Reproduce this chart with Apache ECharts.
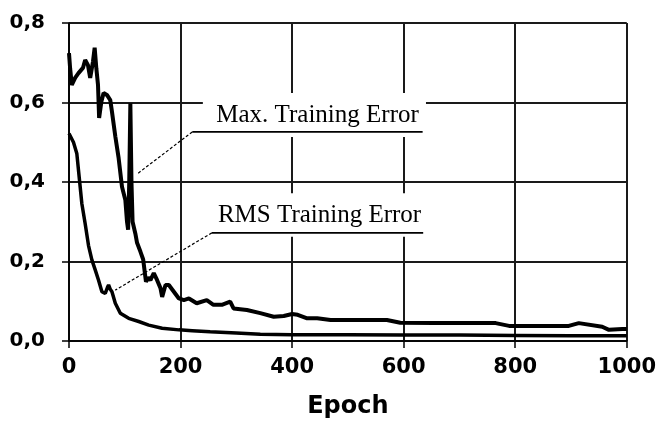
<!DOCTYPE html>
<html>
<head>
<meta charset="utf-8">
<script src="https://cdn.jsdelivr.net/npm/echarts@6/dist/echarts.min.js"></script>
<style>
html,body{margin:0;padding:0;background:#fff;}
#chart{width:659px;height:428px;}
</style>
</head>
<body>
<div id="chart"></div>
<script>
// ---- data ----
const xTicks = [0, 200, 400, 600, 800, 1000];
const yTicks = [0.0, 0.2, 0.4, 0.6, 0.8];
const xName = 'Epoch';

const maxEpochs = [0, 2, 5, 11, 17, 25, 29, 34, 38, 43, 46, 49, 52, 54, 58, 62, 68, 74, 77, 83, 89, 95, 101, 104, 106, 108, 110, 112, 114, 119, 122, 128, 133, 136, 138, 142, 146, 152, 158, 164, 167, 173, 179, 188, 197, 206, 215, 229, 247, 259, 274, 289, 295, 319, 343, 367, 385, 400, 410, 427, 445, 469, 499, 570, 594, 654, 738, 765, 789, 896, 914, 956, 968, 992, 1000];
const maxValues = [0.724, 0.686, 0.644, 0.662, 0.674, 0.687, 0.707, 0.694, 0.662, 0.703, 0.738, 0.686, 0.644, 0.561, 0.602, 0.624, 0.619, 0.606, 0.577, 0.515, 0.46, 0.388, 0.355, 0.30, 0.28, 0.40, 0.598, 0.40, 0.30, 0.27, 0.247, 0.225, 0.205, 0.171, 0.149, 0.16, 0.153, 0.171, 0.153, 0.133, 0.111, 0.141, 0.141, 0.124, 0.107, 0.103, 0.107, 0.095, 0.103, 0.091, 0.091, 0.099, 0.082, 0.078, 0.070, 0.061, 0.063, 0.068, 0.066, 0.057, 0.057, 0.053, 0.053, 0.053, 0.046, 0.045, 0.045, 0.045, 0.038, 0.038, 0.045, 0.036, 0.028, 0.030, 0.030];

const rmsEpochs = [0, 8, 14, 17, 20, 23, 29, 35, 41, 47, 53, 59, 65, 69, 71, 74, 77, 83, 92, 107, 125, 143, 167, 197, 221, 253, 300, 343, 400, 500, 600, 700, 800, 900, 1000];
const rmsValues = [0.522, 0.50, 0.472, 0.43, 0.388, 0.346, 0.295, 0.24, 0.204, 0.179, 0.153, 0.124, 0.120, 0.135, 0.141, 0.13, 0.124, 0.095, 0.070, 0.057, 0.049, 0.040, 0.032, 0.028, 0.026, 0.023, 0.020, 0.017, 0.016, 0.016, 0.015, 0.015, 0.014, 0.013, 0.013];

const seriesNames = ['Max. Training Error', 'RMS Training Error'];

// annotation placement (data coordinates)
const annotations = [
  { text: seriesNames[0], box: [240, 0.624, 640, 0.513], textAt: [264, 0.567], under: [221, 634, 0.526], tip: [122, 0.42] },
  { text: seriesNames[1], box: [244, 0.372, 640, 0.262], textAt: [267, 0.316], under: [256, 635, 0.272], tip: [83, 0.128] }
];

const pairs = (xs, ys) => xs.map((x, i) => [x, ys[i]]);

const chart = echarts.init(document.getElementById('chart'), null, { renderer: 'canvas' });
const sansBold = { fontFamily: 'DejaVu Sans', fontWeight: 'bold', color: '#000' };

chart.setOption({
  animation: false,
  backgroundColor: '#fff',
  grid: { left: 69, right: 32, top: 23, bottom: 87, containLabel: false },
  xAxis: {
    type: 'value', min: xTicks[0], max: xTicks[xTicks.length - 1], interval: xTicks[1] - xTicks[0],
    name: xName, nameLocation: 'middle', nameGap: 54,
    nameTextStyle: Object.assign({ fontSize: 24 }, sansBold),
    axisLine: { show: true, onZero: false, lineStyle: { color: '#000', width: 1.5 } },
    axisTick: { show: true, inside: false, length: 7, lineStyle: { color: '#000', width: 1.5 } },
    axisLabel: Object.assign({ fontSize: 21, margin: 16, formatter: v => String(v) }, sansBold),
    splitLine: { show: true, lineStyle: { color: '#1a1a1a', width: 2 } }
  },
  yAxis: {
    type: 'value', min: yTicks[0], max: yTicks[yTicks.length - 1], interval: yTicks[1] - yTicks[0],
    axisLine: { show: true, onZero: false, lineStyle: { color: '#000', width: 1.5 } },
    axisTick: { show: true, inside: false, length: 7, lineStyle: { color: '#000', width: 1.5 } },
    axisLabel: Object.assign({ fontSize: 20, margin: 24, formatter: v => v.toFixed(1).replace('.', ',') }, sansBold),
    splitLine: { show: true, lineStyle: { color: '#1a1a1a', width: 2 } }
  },
  series: [
    { name: seriesNames[0], type: 'line', data: pairs(maxEpochs, maxValues), showSymbol: false, symbol: 'none',
      lineStyle: { color: '#000', width: 4 }, z: 5 },
    { name: seriesNames[1], type: 'line', data: pairs(rmsEpochs, rmsValues), showSymbol: false, symbol: 'none',
      lineStyle: { color: '#000', width: 3.5 }, z: 5 }
  ]
});

function px(p) { return chart.convertToPixel({ gridIndex: 0 }, p); }

const graphics = [];
annotations.forEach(a => {
  const b0 = px([a.box[0], a.box[1]]), b1 = px([a.box[2], a.box[3]]);
  graphics.push({ type: 'rect', shape: { x: b0[0], y: b0[1], width: b1[0] - b0[0], height: b1[1] - b0[1] },
    style: { fill: '#fff' }, z: 10 });
  const t = px(a.textAt);
  graphics.push({ type: 'text', x: t[0], y: t[1], z: 11,
    style: { text: a.text, font: '25px "Liberation Serif", "Times New Roman", serif', fill: '#000', verticalAlign: 'middle', align: 'left' } });
  const u0 = px([a.under[0], a.under[2]]), u1 = px([a.under[1], a.under[2]]);
  graphics.push({ type: 'line', shape: { x1: u0[0], y1: u0[1], x2: u1[0], y2: u1[1] },
    style: { stroke: '#000', lineWidth: 1.8 }, z: 11 });
  const tp = px(a.tip);
  graphics.push({ type: 'line', shape: { x1: u0[0], y1: u0[1], x2: tp[0], y2: tp[1] },
    style: { stroke: '#000', lineWidth: 1.2, lineDash: [3, 2] }, z: 11 });
});
chart.setOption({ graphic: { elements: graphics } });
</script>
</body>
</html>
